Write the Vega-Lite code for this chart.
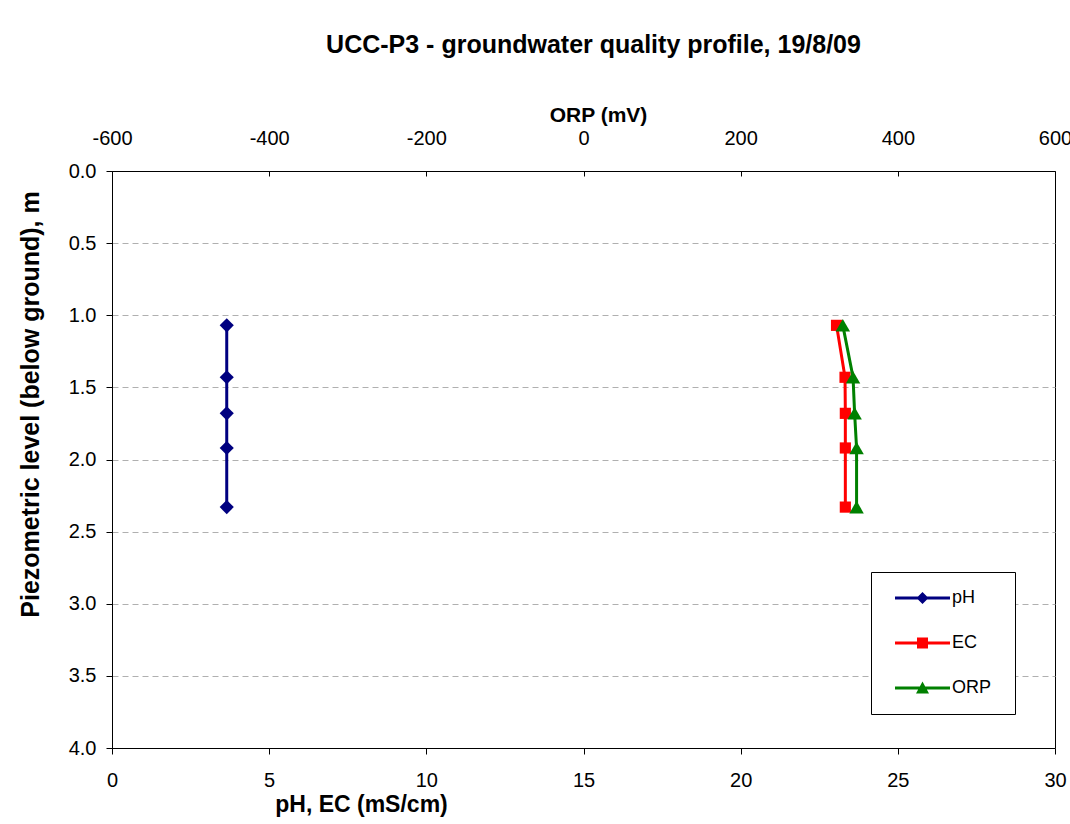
{
  "$schema": "https://vega.github.io/schema/vega-lite/v6.json",
  "width": 943,
  "height": 577,
  "autosize": {"type": "none"},
  "padding": {"left": 112, "top": 171, "right": 15, "bottom": 76},
  "background": "white",
  "title": {
    "text": "UCC-P3 - groundwater quality profile, 19/8/09",
    "font": "Liberation Sans",
    "fontSize": 25,
    "fontWeight": "bold",
    "color": "black",
    "anchor": "middle",
    "offset": 46,
    "dx": 10
  },
  "data": {
    "values": [
      {"series": "pH", "depth": 1.07, "value": 3.65},
      {"series": "pH", "depth": 1.43, "value": 3.65},
      {"series": "pH", "depth": 1.68, "value": 3.65},
      {"series": "pH", "depth": 1.92, "value": 3.65},
      {"series": "pH", "depth": 2.33, "value": 3.65},
      {"series": "EC", "depth": 1.07, "value": 23.05},
      {"series": "EC", "depth": 1.43, "value": 23.32},
      {"series": "EC", "depth": 1.68, "value": 23.33},
      {"series": "EC", "depth": 1.92, "value": 23.33},
      {"series": "EC", "depth": 2.33, "value": 23.33},
      {"series": "ORP", "depth": 1.07, "value": 330},
      {"series": "ORP", "depth": 1.43, "value": 343},
      {"series": "ORP", "depth": 1.68, "value": 345},
      {"series": "ORP", "depth": 1.92, "value": 347.5},
      {"series": "ORP", "depth": 2.33, "value": 347.5}
    ]
  },
  "encoding": {
    "y": {
      "field": "depth",
      "type": "quantitative",
      "scale": {"domain": [0, 4], "reverse": true, "nice": false, "zero": false},
      "axis": {
        "orient": "left",
        "values": [0, 0.5, 1, 1.5, 2, 2.5, 3, 3.5, 4],
        "format": ".1f",
        "title": "Piezometric level (below ground), m",
        "titleFontSize": 25,
        "titleX": -82,
        "titleY": 233,
        "titleAlign": "center",
        "titleBaseline": "middle",
        "titleAngle": -90,
        "tickSize": 6,
        "labelPadding": 10,
        "grid": true,
        "gridColor": "#b0b0b0",
        "gridDash": [6, 4],
        "gridWidth": 1
      }
    },
    "color": {
      "field": "series",
      "type": "nominal",
      "scale": {"domain": ["pH", "EC", "ORP"], "range": ["#000080", "#FF0000", "#008000"]},
      "legend": {
        "orient": "none",
        "legendX": 759,
        "legendY": 401,
        "title": null,
        "fillColor": "white",
        "strokeColor": "black",
        "padding": 17,
        "cornerRadius": 0,
        "symbolSize": 4,
        "symbolStrokeWidth": 0,
        "symbolOffset": 25.5,
        "labelOffset": 20.5,
        "rowPadding": 27,
        "labelFont": "Liberation Sans",
        "labelFontSize": 18,
        "labelColor": "black",
        "labelLimit": 300,
        "encoding": {
          "symbols": {
            "shape": {"value": {"expr": "datum.value === 'pH' ? 'M-27.5,-1.5H27.5V1.5H-27.5Z M0,-6L6,0L0,6L-6,0Z M75,0' : datum.value === 'EC' ? 'M-27.5,-1.5H27.5V1.5H-27.5Z M-5.5,-5.5H5.5V5.5H-5.5Z M75,0' : 'M-27.5,-1.5H27.5V1.5H-27.5Z M0,-6.5L6.5,5.5H-6.5Z M75,0'"}},
            "fill": {"value": {"expr": "datum.value === 'pH' ? '#000080' : datum.value === 'EC' ? '#FF0000' : '#008000'"}},
            "size": {"value": 4},
            "opacity": {"value": 1},
            "strokeWidth": {"value": 0}
          }
        }
      }
    }
  },
  "layer": [
    {
      "transform": [{"filter": "datum.series !== 'ORP'"}],
      "encoding": {
        "x": {
          "field": "value",
          "type": "quantitative",
          "scale": {"domain": [0, 30], "nice": false, "zero": false},
          "axis": {
            "orient": "bottom",
            "values": [0, 5, 10, 15, 20, 25, 30],
            "title": "pH, EC (mS/cm)",
            "titleFontSize": 23,
            "titleX": 249,
            "titleY": 56,
            "titleAlign": "center",
            "titleBaseline": "middle",
            "tickSize": 6,
            "labelPadding": 16,
            "grid": false
          }
        }
      },
      "layer": [
        {
          "mark": {"type": "line", "strokeWidth": 3},
          "encoding": {
            "order": {"field": "depth", "type": "quantitative"}
          }
        },
        {
          "transform": [{"filter": "datum.series === 'pH'"}],
          "mark": {"type": "point", "filled": true, "opacity": 1, "shape": "diamond", "size": 200}
        },
        {
          "transform": [{"filter": "datum.series === 'EC'"}],
          "mark": {"type": "point", "filled": true, "opacity": 1, "shape": "square", "size": 125}
        }
      ]
    },
    {
      "transform": [{"filter": "datum.series === 'ORP'"}],
      "encoding": {
        "x": {
          "field": "value",
          "type": "quantitative",
          "scale": {"domain": [-600, 600], "nice": false, "zero": false},
          "axis": {
            "orient": "top",
            "values": [-600, -400, -200, 0, 200, 400, 600],
            "labelExpr": "datum.value < 0 ? '-' + abs(datum.value) : '' + datum.value",
            "title": "ORP (mV)",
            "titleX": 486,
            "titleY": -56,
            "titleAlign": "center",
            "titleBaseline": "middle",
            "titleFontSize": 21,
            "tickSize": -5,
            "labelPadding": 28,
            "grid": false
          }
        }
      },
      "layer": [
        {
          "mark": {"type": "line", "strokeWidth": 3},
          "encoding": {
            "order": {"field": "depth", "type": "quantitative"}
          }
        },
        {
          "mark": {"type": "point", "filled": true, "opacity": 1, "shape": "triangle-up", "size": 210}
        }
      ]
    }
  ],
  "resolve": {"scale": {"x": "independent"}, "axis": {"x": "independent"}},
  "config": {
    "view": {"stroke": "black", "strokeWidth": 1},
    "axis": {
      "labelFont": "Liberation Sans",
      "titleFont": "Liberation Sans",
      "labelFontSize": 20,
      "titleFontSize": 22,
      "titleFontWeight": "bold",
      "labelColor": "black",
      "titleColor": "black",
      "domainColor": "black",
      "tickColor": "black",
      "domainWidth": 1,
      "tickWidth": 1,
      "labelOverlap": false,
      "labelFlush": false
    }
  }
}
